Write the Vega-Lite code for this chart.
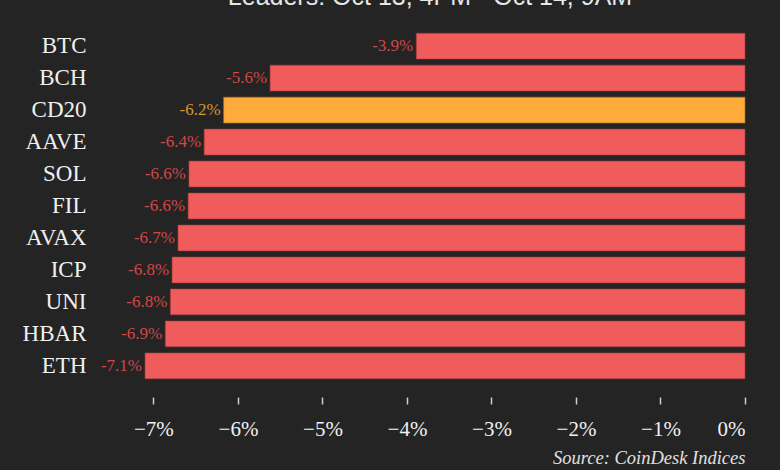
{
  "$schema": "https://vega.github.io/schema/vega-lite/v6.json",
  "width": 600,
  "height": 352,
  "autosize": {"type": "none"},
  "padding": {"left": 145, "top": 30, "right": 35, "bottom": 88},
  "background": "#242424",
  "title": {
    "text": "Leaders: Oct 13, 4PM - Oct 14, 9AM",
    "font": "Liberation Sans",
    "fontSize": 25,
    "fontWeight": "normal",
    "color": "#e6e6e6",
    "anchor": "middle",
    "baseline": "alphabetic",
    "offset": 0,
    "dx": -15
  },
  "data": {
    "values": [
      {"symbol": "BTC", "change": -3.89, "label": "-3.9%"},
      {"symbol": "BCH", "change": -5.62, "label": "-5.6%"},
      {"symbol": "CD20", "change": -6.17, "label": "-6.2%"},
      {"symbol": "AAVE", "change": -6.40, "label": "-6.4%"},
      {"symbol": "SOL", "change": -6.58, "label": "-6.6%"},
      {"symbol": "FIL", "change": -6.59, "label": "-6.6%"},
      {"symbol": "AVAX", "change": -6.71, "label": "-6.7%"},
      {"symbol": "ICP", "change": -6.78, "label": "-6.8%"},
      {"symbol": "UNI", "change": -6.80, "label": "-6.8%"},
      {"symbol": "HBAR", "change": -6.86, "label": "-6.9%"},
      {"symbol": "ETH", "change": -7.10, "label": "-7.1%"}
    ]
  },
  "encoding": {
    "y": {
      "field": "symbol",
      "type": "nominal",
      "sort": null,
      "scale": {"paddingInner": 0.19, "paddingOuter": 0.1},
      "axis": {
        "title": null,
        "domain": false,
        "ticks": false,
        "labelPadding": 59,
        "labelFont": "Liberation Serif",
        "labelFontSize": 23,
        "labelColor": "#f0f0f0"
      }
    },
    "x": {
      "field": "change",
      "type": "quantitative",
      "scale": {"domain": [-7.1, 0], "nice": false, "zero": false},
      "axis": {
        "title": "Source: CoinDesk Indices",
        "titleFont": "Liberation Serif",
        "titleFontStyle": "italic",
        "titleFontWeight": "normal",
        "titleFontSize": 18.5,
        "titleColor": "#e0e0e0",
        "titleAnchor": "end",
        "titlePadding": 9,
        "values": [-7, -6, -5, -4, -3, -2, -1, 0],
        "format": "d",
        "labelExpr": "datum.label + '%'",
        "labelFont": "Liberation Serif",
        "labelFontSize": 21,
        "labelColor": "#f0f0f0",
        "labelPadding": 14,
        "grid": false,
        "domain": false,
        "offset": 15,
        "tickSize": 7,
        "tickColor": "#cccccc",
        "tickWidth": 1.5
      }
    }
  },
  "layer": [
    {
      "mark": {"type": "bar", "strokeWidth": 1, "strokeOpacity": 0.6},
      "encoding": {
        "x2": {"datum": 0},
        "fill": {
          "condition": {"test": "datum.symbol === 'CD20'", "value": "#ffab3c"},
          "value": "#f05b5c"
        },
        "stroke": {
          "condition": {"test": "datum.symbol === 'CD20'", "value": "#a06a20"},
          "value": "#a03a3a"
        }
      }
    },
    {
      "mark": {"type": "text", "align": "right", "baseline": "middle", "dx": -3, "font": "Liberation Serif", "fontSize": 17},
      "encoding": {
        "text": {"field": "label"},
        "color": {
          "condition": {"test": "datum.symbol === 'CD20'", "value": "#d8962e"},
          "value": "#d04848"
        }
      }
    }
  ],
  "config": {"view": {"stroke": null}}
}
